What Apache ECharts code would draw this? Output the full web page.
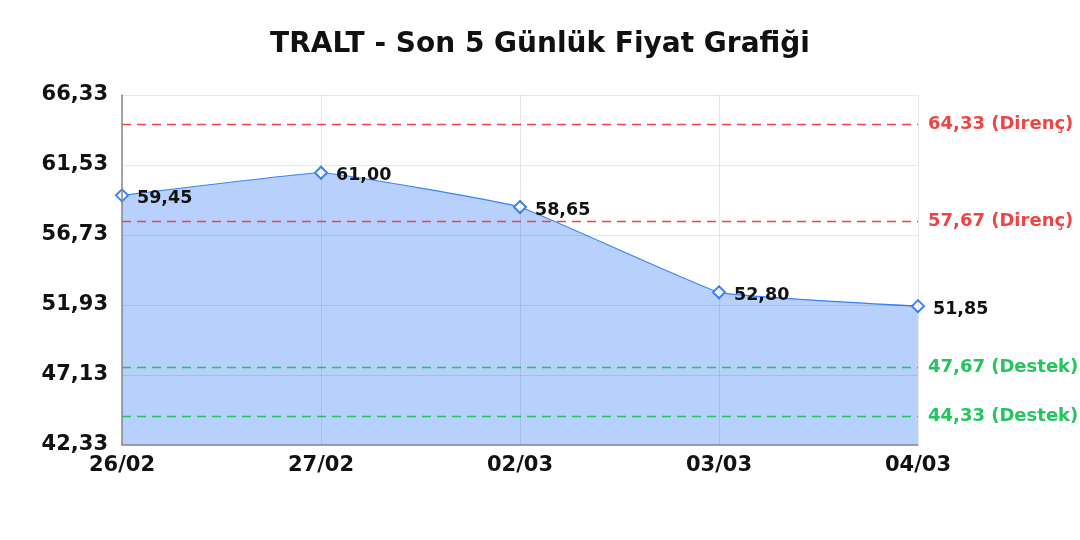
<!DOCTYPE html>
<html>
<head>
<meta charset="utf-8">
<script src="https://cdn.jsdelivr.net/npm/echarts@6/dist/echarts.min.js"></script>
<style>
  html, body { margin: 0; padding: 0; background: #fff; }
  #main { width: 1080px; height: 540px; }
</style>
</head>
<body>
<div id="main"></div>
<script>
var dates = ["26/02", "27/02", "02/03", "03/03", "04/03"];
var prices = [59.45, 61.00, 58.65, 52.80, 51.85];
var yTicks = [42.33, 47.13, 51.93, 56.73, 61.53, 66.33];
var resistance = [64.33, 57.67];
var support = [47.67, 44.33];

var FONT = 'DejaVu Sans';

function fmt(v) {
    return v.toFixed(2).replace('.', ',');
}

var levelLines = [];
resistance.forEach(function (v) {
    levelLines.push({
        yAxis: v,
        lineStyle: { color: '#ef4444', type: [9, 6], width: 1.4 },
        label: { color: '#ef4444', formatter: fmt(v) + ' (Direnç)' }
    });
});
support.forEach(function (v) {
    levelLines.push({
        yAxis: v,
        lineStyle: { color: '#22c55e', type: [9, 6], width: 1.4 },
        label: { color: '#22c55e', formatter: fmt(v) + ' (Destek)' }
    });
});

var myChart = echarts.init(document.getElementById('main'));
var option = {
    backgroundColor: '#fff',
    animation: false,
    textStyle: { fontFamily: FONT },
    title: {
        text: 'TRALT - Son 5 Günlük Fiyat Grafiği',
        left: 'center',
        top: 26,
        textStyle: { fontSize: 28, fontWeight: 'bold', color: '#111', fontFamily: FONT }
    },
    grid: { left: 122, right: 162, top: 95, bottom: 95 },
    xAxis: {
        type: 'category',
        data: dates,
        boundaryGap: false,
        z: 10,
        axisLine: { lineStyle: { color: '#888', width: 1.5 } },
        axisTick: { show: false },
        axisLabel: { color: '#111', fontSize: 21, fontWeight: 'bold', fontFamily: FONT, margin: 10 },
        splitLine: { show: true, lineStyle: { color: 'rgba(0,0,0,0.09)' } }
    },
    yAxis: {
        type: 'value',
        min: 42.33,
        max: 66.33,
        z: 10,
        axisLine: { show: true, lineStyle: { color: '#888', width: 1.5 } },
        axisTick: { show: false, customValues: yTicks },
        axisLabel: {
            customValues: yTicks,
            color: '#111', fontSize: 21, fontWeight: 'bold', fontFamily: FONT, margin: 14,
            formatter: function (v) { return fmt(v); }
        },
        splitLine: { show: true, lineStyle: { color: 'rgba(0,0,0,0.09)' } }
    },
    series: [{
        type: 'line',
        data: prices,
        z: 3,
        smooth: 0.08,
        symbol: 'emptyDiamond',
        symbolSize: 12,
        lineStyle: { color: '#3b82f6', width: 1.2 },
        itemStyle: { color: '#3b82f6', borderWidth: 2 },
        areaStyle: { color: '#3b82f6', opacity: 0.37 },
        label: {
            show: true,
            position: 'right',
            distance: 8,
            offset: [0, 3],
            color: '#111',
            fontSize: 17.5,
            fontWeight: 'bold',
            fontFamily: FONT,
            formatter: function (p) { return fmt(p.value); }
        }
    }, {
        type: 'line',
        data: [],
        z: 4,
        markLine: {
            silent: true,
            symbol: 'none',
            label: { position: 'end', distance: 10, fontSize: 18, fontWeight: 'bold', fontFamily: FONT },
            data: levelLines
        }
    }]
};
myChart.setOption(option);
</script>
</body>
</html>
